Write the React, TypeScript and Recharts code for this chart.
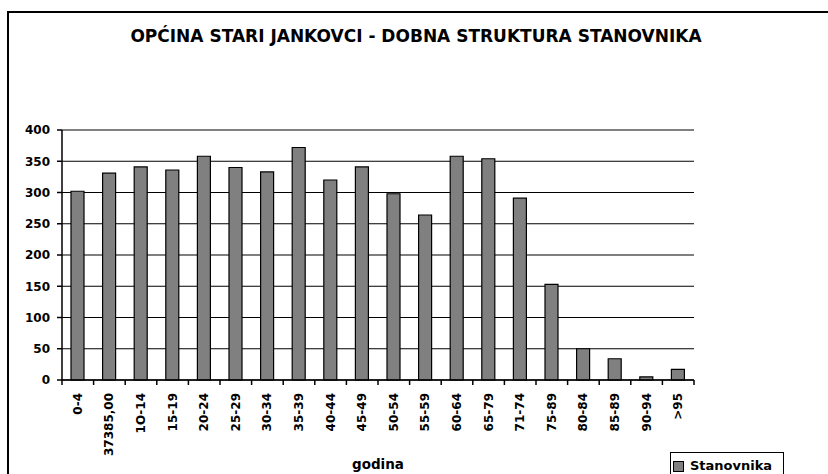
import { BarChart, Bar, XAxis, YAxis, CartesianGrid, Legend, ReferenceLine } from "recharts";

const categories = [
  "0-4", "37385,00", "1O-14", "15-19", "20-24", "25-29", "30-34", "35-39", "40-44", "45-49",
  "50-54", "55-59", "60-64", "65-79", "71-74", "75-89", "80-84", "85-89", "90-94", ">95",
];
const stanovnika = [302, 331, 341, 336, 358, 340, 333, 372, 320, 341, 298, 264, 358, 354, 291, 153, 50, 34, 5, 17];
const yTicks = [0, 50, 100, 150, 200, 250, 300, 350, 400];

const data = categories.map((godina, i) => ({ godina, Stanovnika: stanovnika[i] }));

const W = 828;
const H = 474;
const margin = { top: 130, right: 134, left: 0, bottom: 0 };
const Y_W = 62;
const step = (W - margin.left - margin.right - Y_W) / categories.length;
const font = "'DejaVu Sans', sans-serif";

// category label rotated, plus the small tick between categories
function XTick(props: any) {
  const { x, y, payload, index } = props;
  const last = index === categories.length - 1;
  return (
    <g>
      <line x1={x - step / 2} y1={y} x2={x - step / 2} y2={y + 5} stroke="#000" strokeWidth={1.5} />
      {last && <line x1={x + step / 2} y1={y} x2={x + step / 2} y2={y + 5} stroke="#000" strokeWidth={1.5} />}
      <text
        transform={`translate(${x + 4},${y + 13}) rotate(-90)`}
        textAnchor="end"
        fontFamily={font}
        fontWeight="bold"
        fontSize={12}
        fill="#000"
      >
        {payload.value}
      </text>
    </g>
  );
}

function LegendBox() {
  return (
    <div
      style={{
        border: "1px solid #000",
        boxSizing: "border-box",
        width: 114,
        height: 32,
        padding: "5px 2px",
        display: "flex",
        alignItems: "flex-start",
        background: "#fff",
        fontFamily: font,
        fontWeight: "bold",
        fontSize: 13,
        lineHeight: "15px",
      }}
    >
      <span
        style={{
          display: "inline-block",
          width: 9,
          height: 9,
          background: "#808080",
          border: "1px solid #000",
          marginTop: 3,
          marginRight: 6,
        }}
      />
      <span>Stanovnika</span>
    </div>
  );
}

export default function App() {
  return (
    <div style={{ position: "absolute", left: 0, top: 0, width: W, height: H, overflow: "hidden", background: "#fff" }}>
      <div
        style={{
          position: "absolute",
          left: 7,
          top: 11,
          width: 900,
          height: 600,
          border: "2px solid #000",
        }}
      />
      <div
        style={{
          position: "absolute",
          left: 0,
          width: W,
          top: 28,
          textAlign: "center",
          paddingLeft: 2,
          fontFamily: font,
          fontWeight: "bold",
          fontSize: 17,
          lineHeight: 1,
          color: "#000",
        }}
      >
        OPĆINA STARI JANKOVCI - DOBNA STRUKTURA STANOVNIKA
      </div>
      <div style={{ position: "absolute", left: 0, top: 0 }}>
        <BarChart width={W} height={H} data={data} margin={margin}>
          <CartesianGrid vertical={false} stroke="#000" strokeWidth={1.2} />
          <ReferenceLine y={400} stroke="#808080" strokeWidth={1.5} />
          <XAxis
            dataKey="godina"
            interval={0}
            height={H - 380}
            tickLine={false}
            tickSize={0}
            tickMargin={0}
            axisLine={{ stroke: "#000", strokeWidth: 1.5 }}
            tick={<XTick />}
            label={{
              value: "godina",
              position: "insideBottom",
              offset: 5,
              style: { fontFamily: font, fontWeight: "bold", fontSize: 13.5, fill: "#000" },
            }}
          />
          <YAxis
            width={Y_W}
            domain={[0, 400]}
            ticks={yTicks}
            interval={0}
            tickSize={5}
            tickMargin={7}
            tickLine={{ stroke: "#000", strokeWidth: 1.5 }}
            axisLine={{ stroke: "#000", strokeWidth: 1.5 }}
            tick={{ fontFamily: font, fontWeight: "bold", fontSize: 12, fill: "#000" }}
          />
          <YAxis
            yAxisId="border"
            orientation="right"
            width={0}
            domain={[0, 400]}
            tick={false}
            tickLine={false}
            axisLine={{ stroke: "#808080", strokeWidth: 1.5 }}
          />
          <Legend
            layout="vertical"
            align="center"
            verticalAlign="middle"
            content={<LegendBox />}
            wrapperStyle={{ left: 670, top: 452, width: 114 }}
          />
          <Bar
            dataKey="Stanovnika"
            fill="#808080"
            stroke="#000"
            strokeWidth={1.2}
            barSize={13}
            isAnimationActive={false}
          />
        </BarChart>
      </div>
    </div>
  );
}
